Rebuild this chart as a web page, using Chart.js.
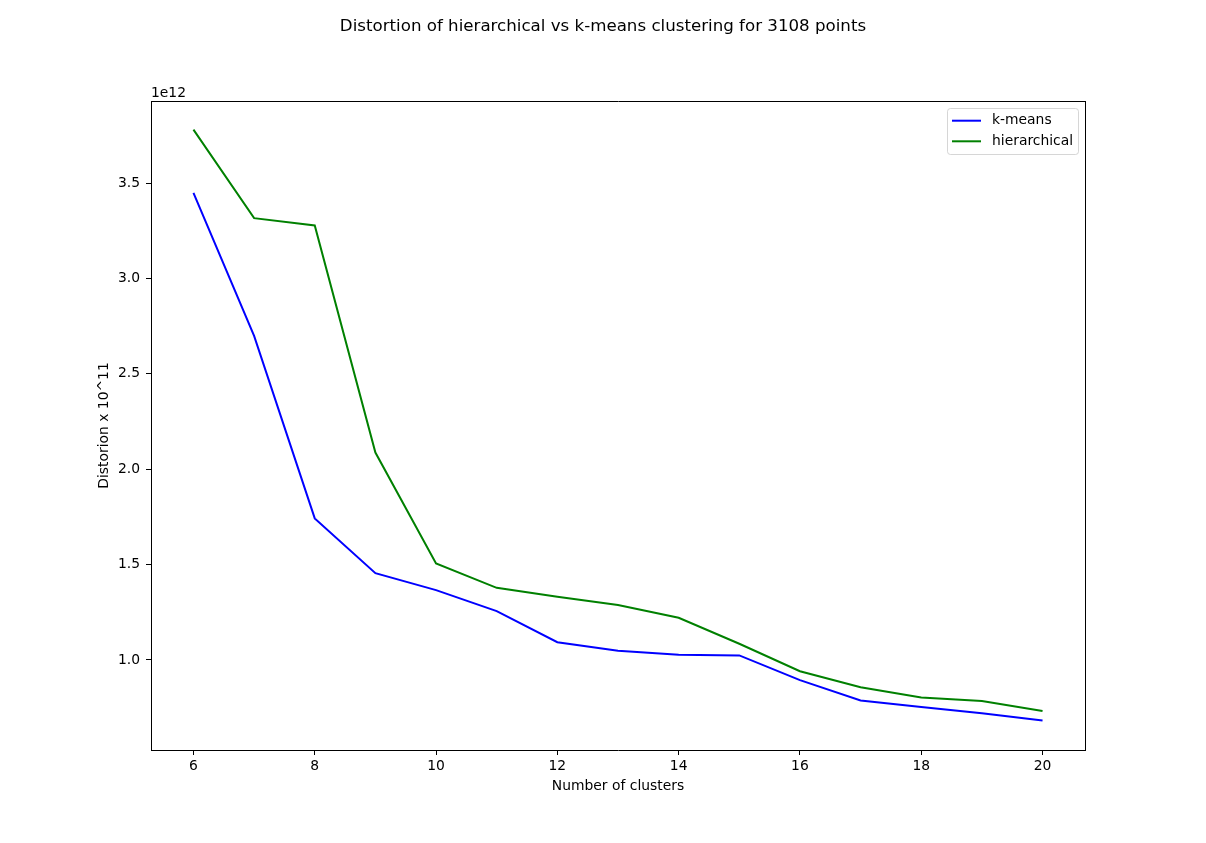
<!DOCTYPE html>
<html><head><meta charset="utf-8">
<script src="https://cdn.jsdelivr.net/npm/chart.js@4.4.0/dist/chart.umd.min.js"></script>
<style>html,body{margin:0;padding:0;background:#fff;}#wrap{width:1206px;height:843px;position:relative;}</style>
</head><body><div id="wrap"><canvas id="c"></canvas></div>
<script>
// ---- data (values in units of 1e12) ----
const clusters = [6, 7, 8, 9, 10, 11, 12, 13, 14, 15, 16, 17, 18, 19, 20];
const kmeans = [3.448, 2.699, 1.742, 1.455, 1.366, 1.256, 1.093, 1.048, 1.027, 1.024, 0.894, 0.788, 0.754, 0.721, 0.683];
const hierarchical = [3.780, 3.316, 3.278, 2.087, 1.506, 1.378, 1.331, 1.288, 1.221, 1.085, 0.941, 0.857, 0.803, 0.785, 0.733];
const xTicks = [6, 8, 10, 12, 14, 16, 18, 20];
const yTicks = [1.0, 1.5, 2.0, 2.5, 3.0, 3.5];
const offsetLabel = '1e12';
const titleText = 'Distortion of hierarchical vs k-means clustering for 3108 points';
const xTitle = 'Number of clusters';
const yTitle = 'Distorion x 10^11';
const seriesNames = ['k-means', 'hierarchical'];

const FONT = 'DejaVu Sans';
const fs = 13.89;

const decor = {
  id: 'decor',
  afterDraw(chart) {
    const ctx = chart.ctx, a = chart.chartArea;
    ctx.save();
    // top and right spines
    ctx.strokeStyle = '#000'; ctx.lineWidth = 1;
    ctx.beginPath();
    ctx.moveTo(Math.round(a.left), Math.round(a.top) + 0.5);
    ctx.lineTo(Math.round(a.right) + 1, Math.round(a.top) + 0.5);
    ctx.moveTo(Math.round(a.right) + 0.5, Math.round(a.top));
    ctx.lineTo(Math.round(a.right) + 0.5, Math.round(a.bottom) + 1);
    ctx.stroke();
    // suptitle
    ctx.fillStyle = '#000';
    ctx.font = '16.67px "' + FONT + '"';
    ctx.textAlign = 'center'; ctx.textBaseline = 'alphabetic';
    ctx.fillText(titleText, chart.width / 2, 31);
    // offset text
    ctx.font = fs + 'px "' + FONT + '"';
    ctx.textAlign = 'left';
    ctx.fillText(offsetLabel, a.left, a.top - 4.5);
    // legend
    const bx = a.right - 137.5, by = a.top + 7.5, bw = 131, bh = 46;
    ctx.beginPath();
    if (ctx.roundRect) ctx.roundRect(bx, by, bw, bh, 3); else ctx.rect(bx, by, bw, bh);
    ctx.fillStyle = 'rgba(255,255,255,0.8)'; ctx.fill();
    ctx.strokeStyle = 'rgba(204,204,204,0.8)'; ctx.stroke();
    chart.data.datasets.forEach((ds, i) => {
      const y = a.top + 19.7 + i * 20.6;
      ctx.beginPath();
      ctx.strokeStyle = ds.borderColor; ctx.lineWidth = 2;
      ctx.moveTo(bx + 4.5, y); ctx.lineTo(bx + 33.5, y); ctx.stroke();
      ctx.fillStyle = '#000'; ctx.textBaseline = 'middle';
      ctx.fillText(ds.label, bx + 44.5, y);
    });
    ctx.restore();
  }
};

new Chart(document.getElementById('c'), {
  type: 'line',
  data: {
    datasets: [
      { label: seriesNames[0], data: clusters.map((x, i) => ({ x, y: kmeans[i] })), borderColor: '#0000ff', backgroundColor: '#0000ff', borderWidth: 2, pointRadius: 0, tension: 0, fill: false },
      { label: seriesNames[1], data: clusters.map((x, i) => ({ x, y: hierarchical[i] })), borderColor: '#008000', backgroundColor: '#008000', borderWidth: 2, pointRadius: 0, tension: 0, fill: false }
    ]
  },
  options: {
    responsive: true, maintainAspectRatio: false, animation: false,
    devicePixelRatio: 1,
    layout: { padding: { top: 101, right: 121, left: 0, bottom: 0 } },
    plugins: { legend: { display: false }, title: { display: false }, tooltip: { enabled: false } },
    scales: {
      x: {
        type: 'linear', min: 5.3, max: 20.7,
        afterBuildTicks: s => { s.ticks = xTicks.map(v => ({ value: v })); },
        afterFit: s => { s.height = 93; },
        ticks: { color: '#000', font: { family: FONT, size: fs }, padding: 3, maxRotation: 0, autoSkip: false, callback: v => String(v) },
        grid: { drawOnChartArea: false, drawTicks: true, tickLength: 5, color: '#000', lineWidth: 1 },
        border: { display: true, color: '#000', width: 1 },
        title: { display: true, text: xTitle, color: '#000', font: { family: FONT, size: fs }, padding: { top: 0, bottom: 48.7 } }
      },
      y: {
        type: 'linear', min: 0.528, max: 3.93,
        afterBuildTicks: s => { s.ticks = yTicks.map(v => ({ value: v })); },
        afterFit: s => { s.width = 151; },
        ticks: { color: '#000', font: { family: FONT, size: fs }, padding: 6, autoSkip: false, callback: v => v.toFixed(1) },
        grid: { drawOnChartArea: false, drawTicks: true, tickLength: 5, color: '#000', lineWidth: 1 },
        border: { display: true, color: '#000', width: 1 },
        title: { display: true, text: yTitle, color: '#000', font: { family: FONT, size: fs }, padding: { top: 95.7, bottom: 0 } }
      }
    }
  },
  plugins: [decor]
});
</script>
</body></html>
